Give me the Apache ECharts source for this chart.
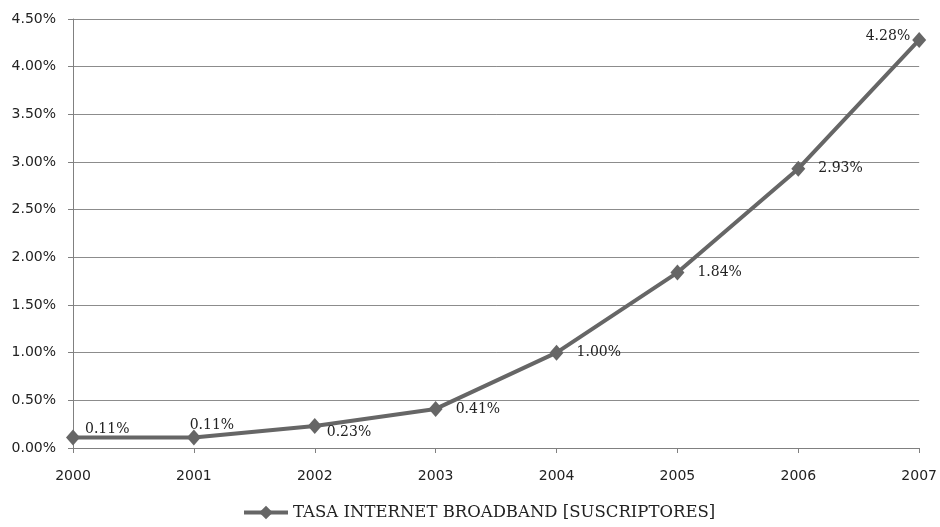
<!DOCTYPE html>
<html><head><meta charset="utf-8">
<script src="https://cdn.jsdelivr.net/npm/echarts@6/dist/echarts.min.js"></script>
<style>html,body{margin:0;padding:0;background:#fff}#c{width:940px;height:527px}</style>
</head><body><div id="c"></div>
<script>
const years = ['2000','2001','2002','2003','2004','2005','2006','2007'];
const tasa = [0.11, 0.11, 0.23, 0.41, 1.00, 1.84, 2.93, 4.28];
const seriesName = 'TASA INTERNET BROADBAND [SUSCRIPTORES]';

const labelCfg = [
  {position:'right', offset:[0,-8]},
  {position:'top', offset:[18,8]},
  {position:'right', offset:[0,6]},
  {position:'right', offset:[8,0]},
  {position:'right', offset:[8,0]},
  {position:'right', offset:[8,0]},
  {position:'right', offset:[8,0]},
  {position:'left', offset:[3,-4]}
];

const chart = echarts.init(document.getElementById('c'));
chart.setOption({
  animation:false,
  grid:{left:73,right:18,top:19,bottom:79},
  legend:{bottom:1,left:237,itemWidth:44,itemHeight:17,itemGap:3,
    lineStyle:{width:4,color:'#666'},
    textStyle:{fontFamily:'DejaVu Serif',fontSize:16.5,color:'#222'},
    data:[seriesName]},
  xAxis:{type:'category',data:years,boundaryGap:false,
    axisLine:{lineStyle:{color:'#808080',width:1}},
    axisTick:{show:true,alignWithLabel:true,length:5,lineStyle:{color:'#808080'}},
    axisLabel:{color:'#222',fontFamily:'DejaVu Sans',fontSize:14,margin:21},
    splitLine:{show:false}},
  yAxis:{type:'value',min:0,max:4.5,interval:0.5,
    axisLine:{show:true,lineStyle:{color:'#808080'}},
    axisTick:{show:true,length:5,lineStyle:{color:'#808080'}},
    axisLabel:{color:'#222',fontFamily:'DejaVu Sans',fontSize:14,margin:17,
      formatter:v=>v.toFixed(2)+'%'},
    splitLine:{lineStyle:{color:'#8c8c8c',width:1}}},
  series:[{
    name:seriesName,type:'line',
    data:tasa.map((v,i)=>({value:v,label:{position:labelCfg[i].position,offset:labelCfg[i].offset}})),
    symbol:'diamond',symbolSize:[14,16],
    lineStyle:{color:'#666',width:4},
    itemStyle:{color:'#666'},
    label:{show:true,fontFamily:'DejaVu Serif',fontSize:14,color:'#222',
      formatter:p=>p.value.toFixed(2)+'%'}
  }]
});
</script></body></html>
